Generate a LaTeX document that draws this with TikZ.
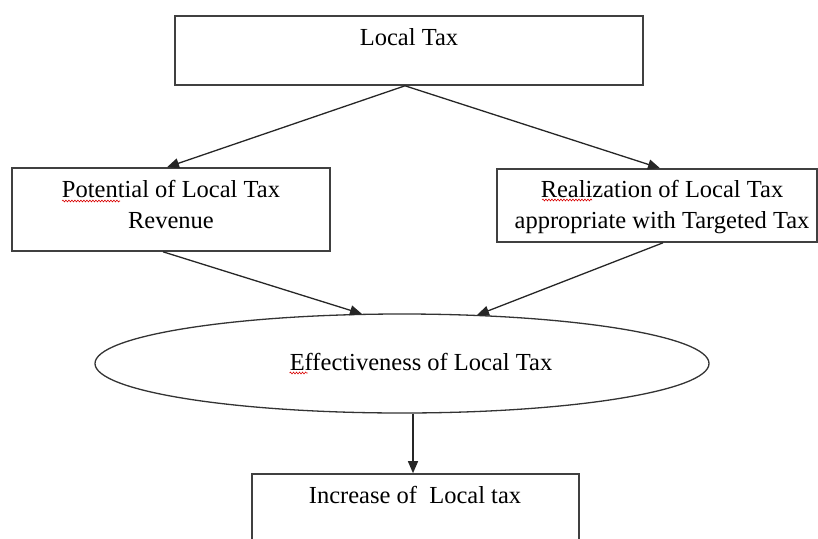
\documentclass[tikz,border=0pt]{standalone}
\usepackage{fontspec}
\setmainfont{Liberation Serif}
\usetikzlibrary{arrows.meta,shapes.geometric,calc,decorations.pathmorphing}
\begin{document}
\begin{tikzpicture}[x=1pt,y=-1pt,
  box/.style={draw=black!75,line width=1.6pt,rectangle,inner sep=0pt},
  oval/.style={draw=black!80,line width=1.3pt,ellipse,inner sep=0pt},
  lbl/.style={font=\fontsize{24.5}{33}\selectfont,inner sep=0pt,anchor=base},
  conn/.style={draw=black!85,line width=1.3pt,-{Triangle[length=12pt,width=10pt]}},
  squig/.style={draw=red!85!black,line width=0.6pt,decorate,decoration={snake,amplitude=0.9pt,segment length=3pt}}]
\clip (0,0) rectangle (818,538);
% boxes
\node[box,minimum width=468pt,minimum height=69pt] (top) at (409,50.5) {};
\node[box,minimum width=318pt,minimum height=83pt] (lbox) at (171,209.5) {};
\node[box,minimum width=320pt,minimum height=73pt] (rbox) at (657,205.5) {};
\node[oval,minimum width=614pt,minimum height=99pt] (ell) at (402,363.5) {};
\node[box,minimum width=327pt,minimum height=86pt] (bbox) at (415.5,517) {};
% texts
\node[lbl] (ttop) at (409,45) {Local Tax};
\node[lbl] (tl1) at (171,197) {Potential of Local Tax};
\node[lbl] (tl2) at (171,228) {Revenue};
\node[lbl] (tr1) at (662,197) {Realization of Local Tax};
\node[lbl] (tr2) at (662,228) {appropriate with Targeted Tax};
\node[lbl] (tell) at (421,370) {Effectiveness of Local Tax};
\node[lbl] (tbot) at (415,503) {Increase of\ \ Local tax};
% spell-check marks
\draw[squig] (62,201) -- (120,201);
\draw[squig] (542,200) -- (592,200);
\draw[squig] ($(tell.base west)+(0,3)$) -- ++(18,0);
% connectors
\coordinate (topout) at ($(top.south)+(-4,0)$);
\draw[conn] (topout) -- ($(lbox.north)+(-4,0)$);
\draw[conn] (topout) -- ($(rbox.north)+(3,0)$);
\draw[conn] ($(lbox.south)+(-8,0)$) -- ($(ell.north)+(-40,0.6)$);
\draw[conn] ($(rbox.south)+(6,0)$) -- ($(ell.north)+(75,1.8)$);
\coordinate (ellout) at ($(ell.south)+(11,0)$);
\draw[conn] (ellout) -- (ellout |- bbox.north);
\end{tikzpicture}
\end{document}
